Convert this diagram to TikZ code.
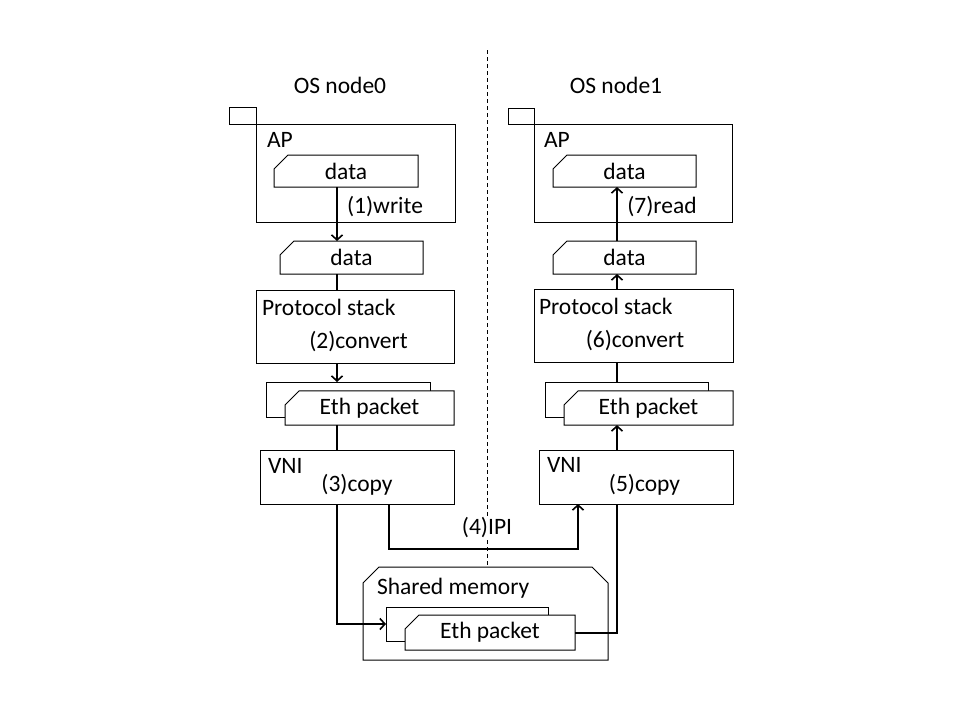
\documentclass[tikz,border=0pt]{standalone}
\usepackage{fontspec}
\setmainfont{Carlito}
\usetikzlibrary{arrows.meta,shapes.misc,calc}
\begin{document}
\begin{tikzpicture}[x=1pt,y=-1pt,
  every node/.style={font=\fontsize{23.5}{28}\selectfont, inner sep=0pt, outer sep=0pt},
  plainbox/.style={draw, line width=1pt, rectangle, minimum width=#1},
  cutbox/.style={draw, line width=1pt, chamfered rectangle, chamfered rectangle corners=north west,
    chamfered rectangle xsep=7pt, chamfered rectangle ysep=7pt, minimum width=#1},
  frontbox/.style={cutbox=#1, fill=white},
  wire/.style={line width=2pt},
  arr/.style={line width=2pt, -{Straight Barb[length=5pt,width=11pt,line width=1.6pt]}},
  lbl/.style={anchor=center},
  lft/.style={anchor=west}
]
\useasboundingbox (0,0) rectangle (960,720);

% divider
\coordinate (dtop) at (487,50);
\coordinate (dbot) at (487,567);
\draw[line width=1pt, dash pattern=on 4pt off 3pt] (dtop) -- (dbot);

% titles
\node[lbl] (t0) at (340,85) {OS node0};
\node[lbl] (t1) at (616,85) {OS node1};

% left column
\node[plainbox=27pt, minimum height=17pt] (tab0) at (242.5,115.5) {};
\node[plainbox=199pt, minimum height=98pt] (ap0) at (355.5,173) {};
\node[cutbox=144pt, minimum height=32pt] (d0a) at (346,171) {data};
\node[cutbox=143pt, minimum height=33pt] (d0b) at (351.5,257.5) {data};
\node[plainbox=198pt, minimum height=73pt] (ps0) at (355,326.5) {};
\node[cutbox=164pt, minimum height=35pt] (eb0) at (348,399.5) {};
\node[frontbox=169pt, minimum height=34pt] (ef0) at (369.5,408) {Eth packet};
\node[plainbox=194pt, minimum height=54pt] (vni0) at (357,477) {};

% right column
\node[plainbox=26pt, minimum height=16pt] (tab1) at (521,116) {};
\node[plainbox=198pt, minimum height=98pt] (ap1) at (633,173) {};
\node[cutbox=143pt, minimum height=32pt] (d1a) at (624.5,171) {data};
\node[cutbox=143pt, minimum height=33pt] (d1b) at (624.5,257.5) {data};
\node[plainbox=199pt, minimum height=73pt] (ps1) at (633.5,325.5) {};
\node[cutbox=163pt, minimum height=35pt] (eb1) at (626.5,399.5) {};
\node[frontbox=169pt, minimum height=34pt] (ef1) at (648.5,408) {Eth packet};
\node[plainbox=194pt, minimum height=54pt] (vni1) at (636,477) {};

% shared memory
\node[rectangle, minimum width=245pt, minimum height=93pt] (shm) at (485.5,613.5) {};
\draw[line width=1pt] (shm.south west) -- ($(shm.north west)+(0,16)$) -- ($(shm.north west)+(16,0)$)
  -- ($(shm.north east)+(-16,0)$) -- ($(shm.north east)+(0,16)$) -- (shm.south east) -- cycle;
\node[cutbox=162pt, minimum height=34pt] (ebs) at (467,624) {};
\node[frontbox=170pt, minimum height=35pt] (efs) at (490,632.5) {Eth packet};

% inner labels
\node[lft] (lap0) at (267,140) {AP};
\node[lft] (lap1) at (544,140) {AP};
\node[lft] (lps0) at (262,307) {Protocol stack};
\node[lft] (lps1) at (539,306) {Protocol stack};
\node[lbl] (lcv0) at (358.5,342) {(2)convert};
\node[lbl] (lcv1) at (635,341) {(6)convert};
\node[lft] (lv0) at (268,466) {VNI};
\node[lft] (lv1) at (547,465) {VNI};
\node[lbl] (lcp0) at (357,485) {(3)copy};
\node[lbl] (lcp1) at (644.5,485) {(5)copy};
\node[lft] (lsm) at (377,588) {Shared memory};
\node[lbl] (lw) at (385,207) {(1)write};
\node[lbl] (lr) at (662,207) {(7)read};

% axes for vertical connectors
\coordinate (c0) at (337,0);
\coordinate (c1) at (617,0);
\coordinate (ipiL) at (389,549);
\coordinate (ipiR) at (578,549);

% left connectors
\draw[arr] (d0a.south -| c0) -- (d0b.north -| c0);
\draw[wire] (d0b.south -| c0) -- (ps0.north -| c0);
\draw[arr] (ps0.south -| c0) -- (eb0.north -| c0);
\draw[wire] (ef0.south -| c0) -- (vni0.north -| c0);
\draw[arr] (vni0.south -| c0) |- (ebs.west);
\draw[arr] (vni0.south -| ipiL) -- (ipiL) -- (ipiR) -- (vni1.south -| ipiR);
\node[lbl, fill=white, inner sep=1pt] (lipi) at (487,528) {(4)IPI};

% right connectors
\draw[wire] (efs.east) -| (vni1.south -| c1);
\draw[arr] (vni1.north -| c1) -- (ef1.south -| c1);
\draw[wire] (eb1.north -| c1) -- (ps1.south -| c1);
\draw[arr] (ps1.north -| c1) -- (d1b.south -| c1);
\draw[arr] (d1b.north -| c1) -- (d1a.south -| c1);
\end{tikzpicture}
\end{document}
